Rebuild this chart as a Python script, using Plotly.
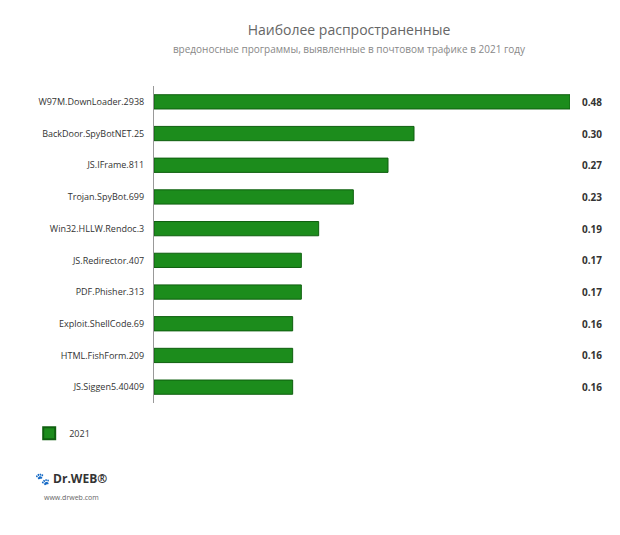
import plotly.graph_objects as go

names = ["W97M.DownLoader.2938", "BackDoor.SpyBotNET.25", "JS.IFrame.811", "Trojan.SpyBot.699",
         "Win32.HLLW.Rendoc.3", "JS.Redirector.407", "PDF.Phisher.313", "Exploit.ShellCode.69",
         "HTML.FishForm.209", "JS.Siggen5.40409"]
values = [0.48, 0.30, 0.27, 0.23, 0.19, 0.17, 0.17, 0.16, 0.16, 0.16]
year = "2021"

fig = go.Figure(go.Bar(
    x=values, y=names, orientation="h", name=year,
    marker=dict(color="#1c8c1c", line=dict(color="#0f5f0f", width=1)),
))

for n, v in zip(names, values):
    fig.add_annotation(x=1, xref="paper", y=n, yref="y", text="<b>%.2f</b>" % v, showarrow=False,
                       xanchor="left", xshift=10, font=dict(size=10, color="#333"))

fig.update_layout(
    width=620, height=535,
    margin=dict(l=146, r=58, t=78, b=140),
    paper_bgcolor="white", plot_bgcolor="white",
    font=dict(family="Open Sans", color="#444"),
    title=dict(text="Наиболее распространенные<br><span style='font-size:10px;color:#888'>вредоносные программы, выявленные в почтовом трафике в 2021 году</span>",
               x=0.55, xanchor="center", y=0.95, font=dict(size=14, color="#666")),
    bargap=0.55,
    xaxis=dict(range=[0, 0.48], visible=False),
    yaxis=dict(autorange="reversed", showline=True, linecolor="#999", ticks="",
               tickfont=dict(size=9, color="#333"), ticksuffix="   "),
    showlegend=True,
    legend=dict(x=-0.3, y=-0.05, xanchor="left", yanchor="top", font=dict(size=9, color="#333"),
                itemsizing="constant"),
)

fig.add_annotation(x=-0.29, xref="paper", y=-0.27, yref="paper", xanchor="left", showarrow=False,
                   text="<b>🐾 Dr.WEB®</b>", font=dict(size=12, color="#333"))
fig.add_annotation(x=-0.27, xref="paper", y=-0.32, yref="paper", xanchor="left", showarrow=False,
                   text="www.drweb.com", font=dict(size=7, color="#666"))

fig.write_html("out.html")
